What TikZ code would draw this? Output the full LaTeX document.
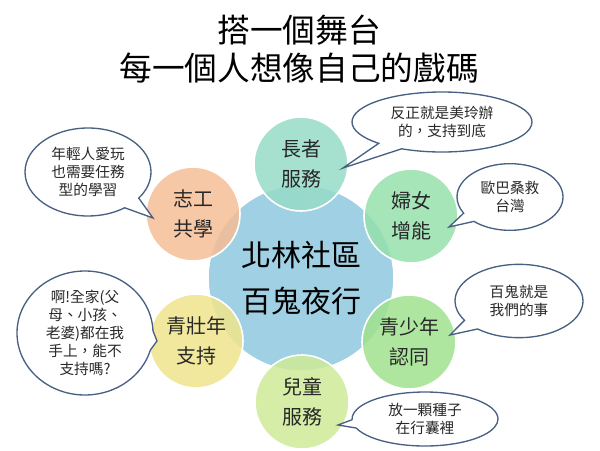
\documentclass[tikz,border=0pt]{standalone}
\usepackage{fontspec}
\usepackage{xcolor}
\usepackage{tikz}
\usetikzlibrary{shapes.callouts}
\newfontfamily\cjk{Noto Sans CJK TC}
\definecolor{hubblue}{RGB}{160, 208, 228}
\definecolor{elderteal}{RGB}{150, 220, 200}
\definecolor{womengreen}{RGB}{150, 224, 172}
\definecolor{youthgreen}{RGB}{160, 226, 142}
\definecolor{kidsgreen}{RGB}{206, 234, 150}
\definecolor{adultyellow}{RGB}{240, 228, 140}
\definecolor{volunteerorange}{RGB}{245, 190, 150}
\definecolor{bubbleline}{RGB}{72, 96, 130}
\definecolor{inktext}{RGB}{40, 40, 40}
\tikzset{
    groupdisk/.style={circle, draw=white, line width=1.2pt, fill opacity=0.85, text opacity=1,
        minimum size=70.5pt, inner sep=0pt, align=center, text=inktext,
        font=\cjk\fontsize{15}{22.5}\selectfont},
    saybubble/.style={ellipse callout, draw=bubbleline, line width=1pt, fill=white,
        inner sep=0pt, align=center, text=inktext, callout pointer arc=18,
        font=\cjk\fontsize{11}{13.5}\selectfont}
}

\begin{document}
\begin{tikzpicture}[x=0.75pt, y=-0.75pt]
    \useasboundingbox (0,0) rectangle (600,450);

    % Title
    \node[font=\cjk\fontsize{24.5}{28.5}\selectfont, align=center, text=black] (title) at (299,49)
        {搭一個舞台\\每一個人想像自己的戲碼};

    % Hub
    \node[circle, fill=hubblue, draw=white, line width=1.2pt, minimum size=139.5pt, inner sep=0pt,
        align=center, text=black, font=\cjk\fontsize{22.5}{34}\selectfont] (hub) at (301,278)
        {北林社區\\百鬼夜行};

    % Groups round the hub
    \node[groupdisk, fill=elderteal] (elder) at (301,164) {長者\\服務};
    \node[groupdisk, fill=womengreen] (women) at (411,216) {婦女\\增能};
    \node[groupdisk, fill=youthgreen] (youth) at (409,342) {青少年\\認同};
    \node[groupdisk, fill=kidsgreen] (kids) at (302,402) {兒童\\服務};
    \node[groupdisk, fill=adultyellow] (adult) at (196,341) {青壯年\\支持};
    \node[groupdisk, fill=volunteerorange] (volunteer) at (193,214) {志工\\共學};

    % Tips of the speech bubbles
    \coordinate (eldertip) at (343,168);
    \coordinate (womentip) at (449,227);
    \coordinate (youthtip) at (450,335);
    \coordinate (kidstip) at (338,425);
    \coordinate (adulttip) at (157,341);
    \coordinate (volunteertip) at (153,218);

    % Speech bubbles
    \node[saybubble, minimum width=135pt, minimum height=45pt, callout absolute pointer={(eldertip)}]
        (eldersay) at (442,122) {反正就是美玲辦\\的，支持到底};
    \node[saybubble, minimum width=79.5pt, minimum height=50pt, callout absolute pointer={(womentip)}]
        (womensay) at (510,197) {歐巴桑救\\台灣};
    \node[saybubble, minimum width=96pt, minimum height=55pt, callout absolute pointer={(youthtip)}]
        (youthsay) at (519,301) {百鬼就是\\我們的事};
    \node[saybubble, minimum width=109.5pt, minimum height=40.5pt, callout absolute pointer={(kidstip)}]
        (kidssay) at (425,419) {放一顆種子\\在行囊裡};
    \node[saybubble, minimum width=102pt, minimum height=93pt, callout absolute pointer={(adulttip)}]
        (adultsay) at (85,333) {啊!全家(父\\母、小孩、\\老婆)都在我\\手上，能不\\支持嗎?};
    \node[saybubble, minimum width=94.5pt, minimum height=66pt, callout absolute pointer={(volunteertip)}]
        (volunteersay) at (88,172) {年輕人愛玩\\也需要任務\\型的學習};
\end{tikzpicture}
\end{document}
